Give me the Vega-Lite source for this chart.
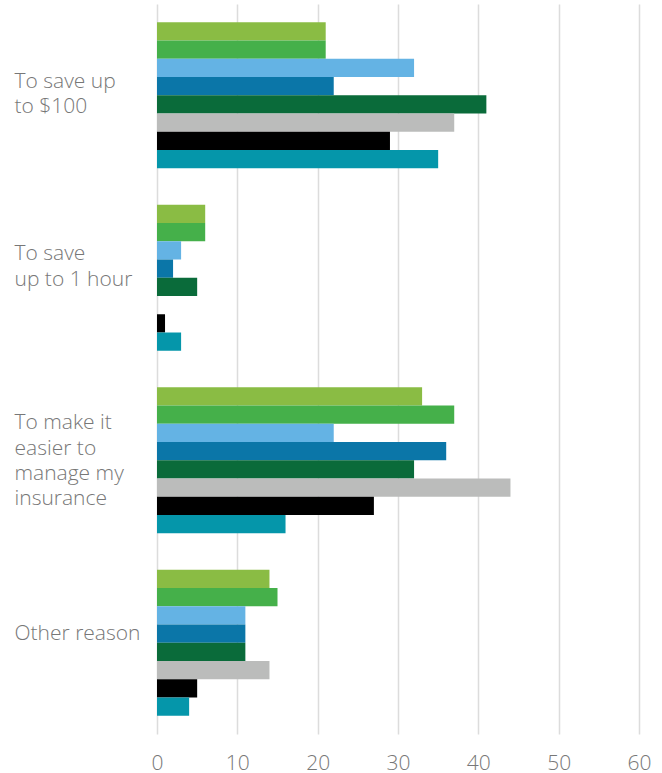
{
  "$schema": "https://vega.github.io/schema/vega-lite/v6.json",
  "width": 482,
  "height": 730,
  "autosize": {"type": "none"},
  "padding": {"left": 157, "top": 4, "right": 23, "bottom": 39},
  "background": "white",
  "config": {"view": {"stroke": null}},
  "data": {
    "values": [
      {"reason": "To save up|to $100", "series": "Series 1", "value": 21},
      {"reason": "To save up|to $100", "series": "Series 2", "value": 21},
      {"reason": "To save up|to $100", "series": "Series 3", "value": 32},
      {"reason": "To save up|to $100", "series": "Series 4", "value": 22},
      {"reason": "To save up|to $100", "series": "Series 5", "value": 41},
      {"reason": "To save up|to $100", "series": "Series 6", "value": 37},
      {"reason": "To save up|to $100", "series": "Series 7", "value": 29},
      {"reason": "To save up|to $100", "series": "Series 8", "value": 35},
      {"reason": "To save|up to 1 hour", "series": "Series 1", "value": 6},
      {"reason": "To save|up to 1 hour", "series": "Series 2", "value": 6},
      {"reason": "To save|up to 1 hour", "series": "Series 3", "value": 3},
      {"reason": "To save|up to 1 hour", "series": "Series 4", "value": 2},
      {"reason": "To save|up to 1 hour", "series": "Series 5", "value": 5},
      {"reason": "To save|up to 1 hour", "series": "Series 6", "value": 0},
      {"reason": "To save|up to 1 hour", "series": "Series 7", "value": 1},
      {"reason": "To save|up to 1 hour", "series": "Series 8", "value": 3},
      {"reason": "To make it|easier to|manage my|insurance", "series": "Series 1", "value": 33},
      {"reason": "To make it|easier to|manage my|insurance", "series": "Series 2", "value": 37},
      {"reason": "To make it|easier to|manage my|insurance", "series": "Series 3", "value": 22},
      {"reason": "To make it|easier to|manage my|insurance", "series": "Series 4", "value": 36},
      {"reason": "To make it|easier to|manage my|insurance", "series": "Series 5", "value": 32},
      {"reason": "To make it|easier to|manage my|insurance", "series": "Series 6", "value": 44},
      {"reason": "To make it|easier to|manage my|insurance", "series": "Series 7", "value": 27},
      {"reason": "To make it|easier to|manage my|insurance", "series": "Series 8", "value": 16},
      {"reason": "Other reason", "series": "Series 1", "value": 14},
      {"reason": "Other reason", "series": "Series 2", "value": 15},
      {"reason": "Other reason", "series": "Series 3", "value": 11},
      {"reason": "Other reason", "series": "Series 4", "value": 11},
      {"reason": "Other reason", "series": "Series 5", "value": 11},
      {"reason": "Other reason", "series": "Series 6", "value": 14},
      {"reason": "Other reason", "series": "Series 7", "value": 5},
      {"reason": "Other reason", "series": "Series 8", "value": 4}
    ]
  },
  "mark": {"type": "bar", "cornerRadius": 0},
  "encoding": {
    "y": {
      "field": "reason",
      "type": "nominal",
      "sort": null,
      "scale": {"paddingInner": 0.2, "paddingOuter": 0.1},
      "axis": {
        "title": null,
        "ticks": false,
        "domain": false,
        "grid": false,
        "labelAlign": "left",
        "labelBaseline": "alphabetic",
        "labelPadding": 143,
        "labelOffset": {
          "condition": [
            {"test": "indexof(datum.value, 'To save up') == 0", "value": -7.5},
            {"test": "indexof(datum.value, 'To save|') == 0", "value": -17.5},
            {"test": "indexof(datum.value, 'To make') == 0", "value": -31}
          ],
          "value": -2.5
        },
        "labelFont": "Open Sans",
        "labelFontWeight": 300,
        "labelFontSize": 21,
        "labelColor": "#777777",
        "labelLineHeight": 25.3,
        "labelLimit": 0,
        "labelExpr": "split(datum.value, '|')"
      }
    },
    "yOffset": {
      "field": "series",
      "type": "nominal",
      "sort": null,
      "scale": {"paddingInner": 0, "paddingOuter": 0}
    },
    "x": {
      "field": "value",
      "type": "quantitative",
      "scale": {"domain": [0, 60], "nice": false},
      "axis": {
        "title": null,
        "values": [0, 10, 20, 30, 40, 50, 60],
        "domain": false,
        "ticks": false,
        "grid": true,
        "gridColor": "#dcdcdc",
        "gridWidth": 1.5,
        "labelPadding": 18,
        "labelFont": "Open Sans",
        "labelFontWeight": 300,
        "labelFontSize": 21,
        "labelColor": "#777777",
        "labelFlush": false
      }
    },
    "color": {
      "field": "series",
      "type": "nominal",
      "sort": null,
      "legend": null,
      "scale": {
        "domain": ["Series 1", "Series 2", "Series 3", "Series 4", "Series 5", "Series 6", "Series 7", "Series 8"],
        "range": ["#8ABC44", "#45B04A", "#64B3E4", "#0B76A8", "#0A6B3A", "#BBBCBB", "#000000", "#0596AA"]
      }
    }
  }
}
